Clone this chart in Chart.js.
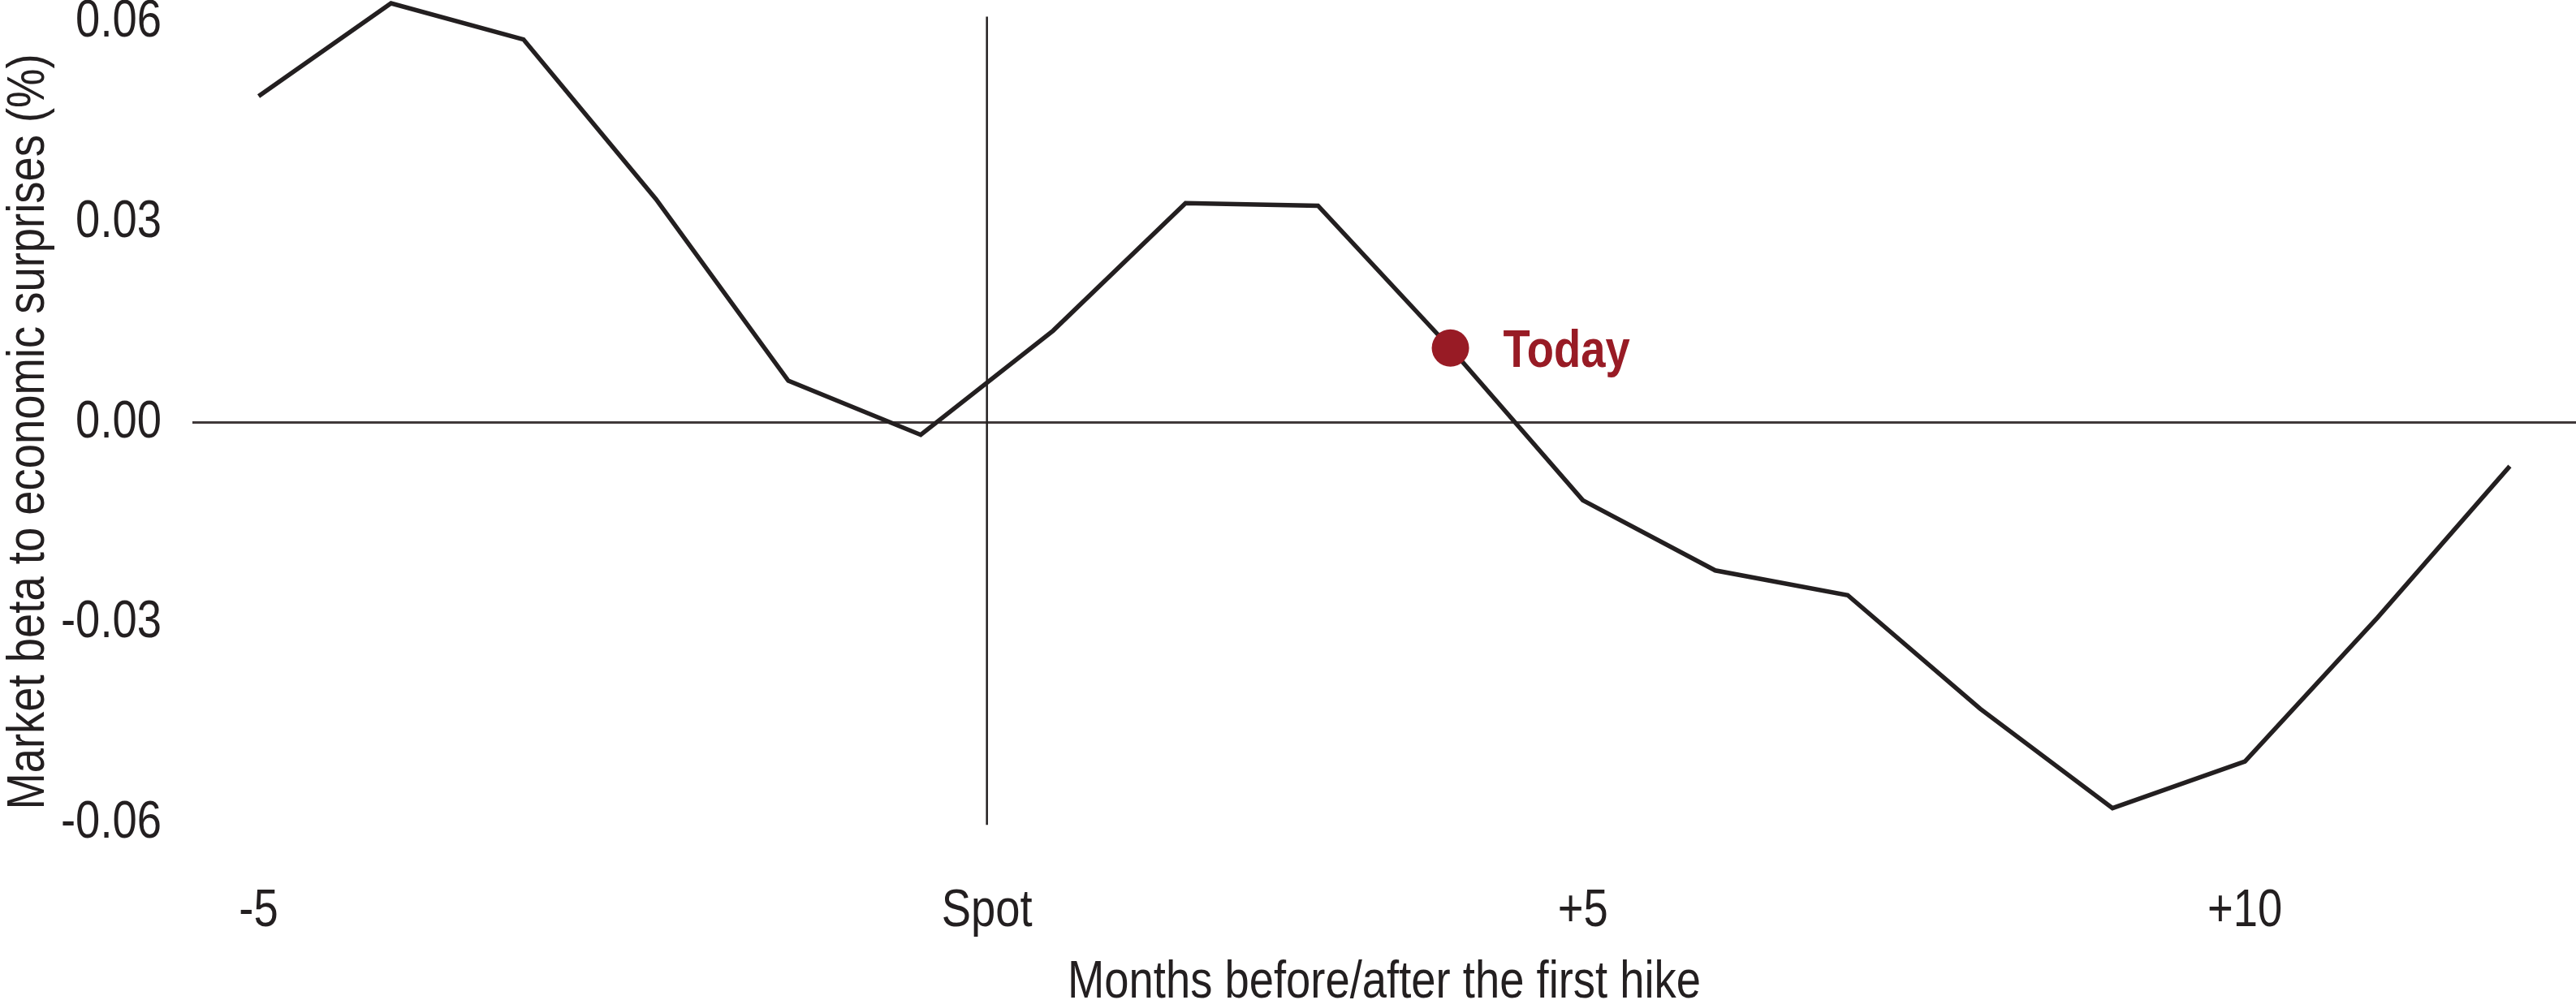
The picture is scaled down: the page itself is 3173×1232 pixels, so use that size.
<!DOCTYPE html>
<html>
<head>
<meta charset="utf-8">
<script src="https://cdn.jsdelivr.net/npm/chart.js@4.4.1/dist/chart.umd.min.js"></script>
<style>
  html, body { margin: 0; padding: 0; background: #ffffff; }
  #wrap { width: 3173px; height: 1232px; position: relative; }
</style>
</head>
<body>
<div id="wrap"><canvas id="c" width="3173" height="1232"></canvas></div>
<script>
// ---- data ----
const months = [-5, -4, -3, -2, -1, 0, 1, 2, 3, 4, 5, 6, 7, 8, 9, 10, 11, 12];
const betaValues = [0.0489, 0.0628, 0.0574, 0.0335, 0.0063, -0.0018, 0.0138, 0.0329, 0.0325, 0.0112,
                    -0.0116, -0.0221, -0.0258, -0.0428, -0.0577, -0.0507, -0.0292, -0.0065];
const todayMonth = 4;
const todayValue = 0.0112;
const todayLabel = 'Today';
const spotLineMonth = 0.5;
const spotLineRange = [-0.0602, 0.0608];
const xTickValues = [-5, 0.5, 5, 10];
const xTickLabels = ['-5', 'Spot', '+5', '+10'];
const yTickValues = [-0.06, -0.03, 0, 0.03, 0.06];
const xAxisTitle = 'Months before/after the first hike';
const yAxisTitle = 'Market beta to economic surprises (%)';

// ---- styles ----
const INK = '#231F20';
const RED = '#981B25';
const FONT = "'Liberation Sans', Arial, sans-serif";
const TEXT_SCALE_X = 0.85; // condensed look of the original typeface

const lineData = months.map((m, i) => ({ x: m, y: betaValues[i] }));
const spotData = spotLineRange.map(v => ({ x: spotLineMonth, y: v }));
const todayData = [{ x: todayMonth, y: todayValue }];

const protoFillText = CanvasRenderingContext2D.prototype.fillText;
const condensedTextPlugin = {
  id: 'condensedText',
  beforeInit(chart) {
    const ctx = chart.ctx;
    ctx.fillText = function (text, x, y, maxWidth) {
      this.save();
      this.translate(x, y);
      this.scale(TEXT_SCALE_X, 1);
      if (maxWidth !== undefined) protoFillText.call(this, text, 0, 0, maxWidth / TEXT_SCALE_X);
      else protoFillText.call(this, text, 0, 0);
      this.restore();
    };
  }
};

const bgPlugin = {
  id: 'bg',
  beforeDraw(chart) {
    const ctx = chart.ctx;
    ctx.save();
    ctx.fillStyle = '#ffffff';
    ctx.fillRect(0, 0, chart.width, chart.height);
    ctx.restore();
  }
};

const todayLabelPlugin = {
  id: 'todayLabel',
  afterDatasetsDraw(chart) {
    const meta = chart.getDatasetMeta(2);
    const pt = meta.data[0];
    if (!pt) return;
    const ctx = chart.ctx;
    ctx.save();
    ctx.font = "bold 64px " + FONT;
    ctx.fillStyle = RED;
    ctx.textAlign = 'left';
    ctx.textBaseline = 'alphabetic';
    ctx.fillText(todayLabel, pt.x + 65, pt.y + 23);
    ctx.restore();
  }
};

new Chart(document.getElementById('c'), {
  type: 'line',
  data: {
    datasets: [
      {
        data: lineData,
        borderColor: INK,
        borderWidth: 5.5,
        pointRadius: 0,
        pointHoverRadius: 0,
        fill: false,
        tension: 0,
        order: 2
      },
      {
        data: spotData,
        borderColor: INK,
        borderWidth: 2.5,
        pointRadius: 0,
        pointHoverRadius: 0,
        fill: false,
        order: 3
      },
      {
        data: todayData,
        showLine: false,
        pointRadius: 23,
        pointHoverRadius: 23,
        pointBackgroundColor: RED,
        pointBorderColor: RED,
        pointBorderWidth: 0,
        order: 1
      }
    ]
  },
  options: {
    responsive: false,
    animation: false,
    devicePixelRatio: 1,
    events: [],
    layout: { padding: 0, autoPadding: false },
    plugins: {
      legend: { display: false },
      tooltip: { enabled: false }
    },
    scales: {
      x: {
        type: 'linear',
        min: -5.5,
        max: 12.5,
        afterBuildTicks(scale) {
          scale.ticks = xTickValues.map(v => ({ value: v }));
        },
        afterFit(scale) {
          scale.height = 168;
          scale.paddingLeft = 0; scale.paddingRight = 0;
          scale.paddingTop = 0; scale.paddingBottom = 0;
        },
        grid: { display: false, drawTicks: false },
        border: { display: false },
        ticks: {
          autoSkip: false,
          maxRotation: 0,
          padding: 21,
          color: INK,
          font: { family: FONT, size: 64 },
          callback(value) {
            const i = xTickValues.indexOf(value);
            return i >= 0 ? xTickLabels[i] : '';
          }
        },
        title: {
          display: true,
          text: xAxisTitle,
          color: INK,
          padding: 0,
          font: { family: FONT, size: 64, lineHeight: 0.66 }
        }
      },
      y: {
        type: 'linear',
        min: -0.066,
        max: 0.0633,
        afterBuildTicks(scale) {
          scale.ticks = yTickValues.map(v => ({ value: v }));
        },
        afterFit(scale) {
          scale.width = 237;
          scale.paddingLeft = 0; scale.paddingRight = 0;
          scale.paddingTop = 0; scale.paddingBottom = 0;
        },
        grid: {
          drawTicks: false,
          lineWidth: 3,
          color(ctx) {
            return ctx.tick && ctx.tick.value === 0 ? '#3f3839' : 'rgba(0,0,0,0)';
          }
        },
        border: { display: false },
        ticks: {
          padding: 38,
          color: INK,
          font: { family: FONT, size: 64 },
          callback(value) { return value.toFixed(2); }
        },
        title: {
          display: true,
          text: yAxisTitle,
          color: INK,
          padding: { top: 4, bottom: 0 },
          font: { family: FONT, size: 64, lineHeight: 1.0 }
        }
      }
    }
  },
  plugins: [condensedTextPlugin, bgPlugin, todayLabelPlugin]
});
</script>
</body>
</html>
